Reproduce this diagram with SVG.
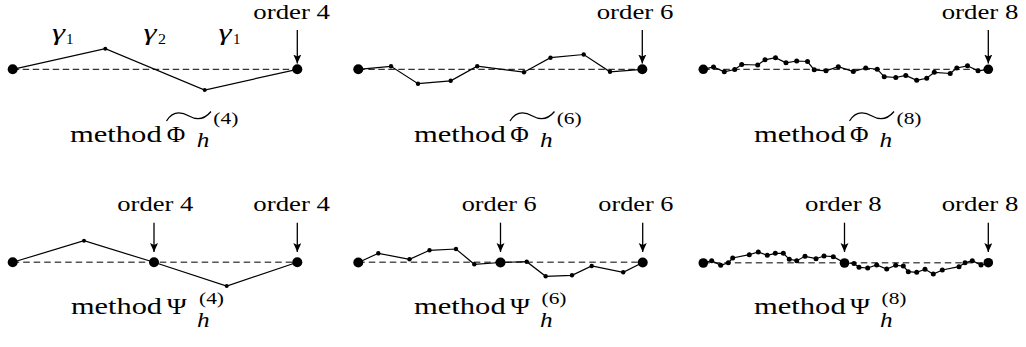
<svg xmlns="http://www.w3.org/2000/svg" width="1026" height="347" viewBox="0 0 1026 347">
<style>
text{font-family:"Liberation Serif","Times New Roman",serif;fill:#000}
.ord{font-size:20px}
.mth{font-size:24px}
.phi{font-size:23px}
.sub{font-size:20px;font-style:italic}
.sup{font-size:17px}
.gam{font-size:23px;font-style:italic}
.gsub{font-size:15px}
.dash{stroke:#333;stroke-width:1.2;stroke-dasharray:6.5 3.5;fill:none}
.dash2{stroke:#555;stroke-width:1.4;stroke-dasharray:6.5 4;fill:none}
.path{stroke:#000;stroke-width:1.2;fill:none}
.arrow{stroke:#000;stroke-width:1.3;fill:none;marker-end:url(#ah)}
.tilde{stroke:#000;stroke-width:1.3;fill:none}
circle{fill:#000}
</style>
<defs>
<marker id="ah" markerUnits="userSpaceOnUse" markerWidth="12" markerHeight="12" refX="9" refY="4" orient="auto">
<path d="M0,0 L9,4 L0,8 L2,4 z" fill="#000"/>
</marker>
</defs>

<!-- Top row -->
<g id="panel-phi4">
<line class="dash" x1="12.7" y1="69.3" x2="297.3" y2="69.3"/>
<polyline class="path" points="12.7,69.3 105.3,48.7 204.7,90 297.3,69.3"/>
<circle cx="12.7" cy="69.3" r="5"/><circle cx="297.3" cy="69.3" r="5"/>
<circle cx="105.3" cy="48.7" r="2"/><circle cx="204.7" cy="90" r="2"/>
<text class="gam" x="52" y="40" textLength="13" lengthAdjust="spacingAndGlyphs">γ</text><text class="gsub" x="66" y="43.5" textLength="7.5" lengthAdjust="spacingAndGlyphs">1</text>
<text class="gam" x="143.5" y="40" textLength="13" lengthAdjust="spacingAndGlyphs">γ</text><text class="gsub" x="158" y="43.5" textLength="8" lengthAdjust="spacingAndGlyphs">2</text>
<text class="gam" x="218.5" y="40" textLength="13" lengthAdjust="spacingAndGlyphs">γ</text><text class="gsub" x="233" y="43.5" textLength="7.5" lengthAdjust="spacingAndGlyphs">1</text>
<text class="ord" x="253.3" y="18.5" textLength="76.7" lengthAdjust="spacingAndGlyphs">order 4</text>
<text class="mth" x="70" y="141.7" textLength="91.7" lengthAdjust="spacingAndGlyphs">method</text>
<text class="phi" x="166.7" y="141.7" textLength="18.5" lengthAdjust="spacingAndGlyphs">Φ</text>
<text class="sub" x="196.7" y="146.5" textLength="12.6" lengthAdjust="spacingAndGlyphs">h</text>
<path class="tilde" d="M166.5,121 C172,112 180,111 189,116 C197,120.5 204,120 211,111.5"/>
<text class="sup" x="213.3" y="124" textLength="25" lengthAdjust="spacingAndGlyphs">(4)</text>
</g>

<g id="panel-phi6">
<line class="dash" x1="358.3" y1="69.3" x2="642.3" y2="69.3"/>
<polyline class="path" points="358.3,69.3 391,66.3 418,83.7 450.7,80.8 477.2,66.2 524,72.2 550.5,57.7 583.7,54.5 610,71.8 642.3,69.3"/>
<circle cx="358.3" cy="69.3" r="5"/><circle cx="642.3" cy="69.3" r="5"/>
<circle cx="391" cy="66.3" r="2.2"/><circle cx="418" cy="83.7" r="2.2"/><circle cx="450.7" cy="80.8" r="2.2"/><circle cx="477.2" cy="66.2" r="2.2"/><circle cx="524" cy="72.2" r="2.2"/><circle cx="550.5" cy="57.7" r="2.2"/><circle cx="583.7" cy="54.5" r="2.2"/><circle cx="610" cy="71.8" r="2.2"/>
<text class="ord" x="596.7" y="18.5" textLength="76.7" lengthAdjust="spacingAndGlyphs">order 6</text>
<text class="mth" x="414" y="141.7" textLength="91.7" lengthAdjust="spacingAndGlyphs">method</text>
<text class="phi" x="510.3" y="141.7" textLength="18.5" lengthAdjust="spacingAndGlyphs">Φ</text>
<text class="sub" x="540" y="146.5" textLength="12.6" lengthAdjust="spacingAndGlyphs">h</text>
<path class="tilde" d="M510,121 C515.5,112 523.5,111 532.5,116 C540.5,120.5 547.5,120 554.5,111.5"/>
<text class="sup" x="556.7" y="124" textLength="25" lengthAdjust="spacingAndGlyphs">(6)</text>
</g>

<g id="panel-phi8">
<line class="dash" x1="703.3" y1="69.3" x2="988.3" y2="69.3"/>
<polyline class="path" points="703.3,69.3 713.5,67 724.3,71.8 734.7,69.5 741.7,64.5 757.7,65 765,59.8 775.5,57.7 786,62.8 796.7,61 807.5,61.5 814.2,69.8 826,70.8 838.3,66.7 853.3,71.5 865.7,68 877.2,69.2 884.2,76.7 895.8,77.5 905.8,75.5 916.7,80.3 926.7,78.3 934.3,72.3 950.2,73.5 956.8,68 967.5,65.8 978,70.8 988.3,69.3"/>
<circle cx="703.3" cy="69.3" r="4.8"/><circle cx="988.3" cy="69.3" r="4.8"/>
<g>
<circle cx="713.5" cy="67" r="2.5"/><circle cx="724.3" cy="71.8" r="2.5"/><circle cx="734.7" cy="69.5" r="2.5"/><circle cx="741.7" cy="64.5" r="2.5"/><circle cx="757.7" cy="65" r="2.5"/><circle cx="765" cy="59.8" r="2.5"/><circle cx="775.5" cy="57.7" r="2.5"/><circle cx="786" cy="62.8" r="2.5"/><circle cx="796.7" cy="61" r="2.5"/><circle cx="807.5" cy="61.5" r="2.5"/><circle cx="814.2" cy="69.8" r="2.5"/><circle cx="826" cy="70.8" r="2.5"/><circle cx="838.3" cy="66.7" r="2.5"/><circle cx="853.3" cy="71.5" r="2.5"/><circle cx="865.7" cy="68" r="2.5"/><circle cx="877.2" cy="69.2" r="2.5"/><circle cx="884.2" cy="76.7" r="2.5"/><circle cx="895.8" cy="77.5" r="2.5"/><circle cx="905.8" cy="75.5" r="2.5"/><circle cx="916.7" cy="80.3" r="2.5"/><circle cx="926.7" cy="78.3" r="2.5"/><circle cx="934.3" cy="72.3" r="2.5"/><circle cx="950.2" cy="73.5" r="2.5"/><circle cx="956.8" cy="68" r="2.5"/><circle cx="967.5" cy="65.8" r="2.5"/><circle cx="978" cy="70.8" r="2.5"/>
</g>
<text class="ord" x="941.7" y="18.5" textLength="76.7" lengthAdjust="spacingAndGlyphs">order 8</text>
<text class="mth" x="754" y="141.7" textLength="91.7" lengthAdjust="spacingAndGlyphs">method</text>
<text class="phi" x="850" y="141.7" textLength="18.5" lengthAdjust="spacingAndGlyphs">Φ</text>
<text class="sub" x="879.5" y="146.5" textLength="12.6" lengthAdjust="spacingAndGlyphs">h</text>
<path class="tilde" d="M849.5,121 C855,112 863,111 872,116 C880,120.5 887,120 894,111.5"/>
<text class="sup" x="896.5" y="124" textLength="25" lengthAdjust="spacingAndGlyphs">(8)</text>
</g>

<!-- Bottom row -->
<g id="panel-psi4">
<line class="dash2" x1="12.7" y1="262.3" x2="297.3" y2="262.3"/>
<polyline class="path" points="12.7,262.3 84,240.7 154,262.3 226.7,286 297.3,262.3"/>
<circle cx="12.7" cy="262.3" r="5"/><circle cx="154" cy="262.3" r="5"/><circle cx="297.3" cy="262.3" r="5"/>
<circle cx="84" cy="240.7" r="2"/><circle cx="226.7" cy="286" r="2"/>
<text class="ord" x="117.3" y="211" textLength="76" lengthAdjust="spacingAndGlyphs">order 4</text>
<text class="ord" x="253.3" y="211" textLength="76.7" lengthAdjust="spacingAndGlyphs">order 4</text>
<text class="mth" x="71" y="314.3" textLength="91" lengthAdjust="spacingAndGlyphs">method</text>
<text class="phi" x="166.7" y="314.3" textLength="20" lengthAdjust="spacingAndGlyphs">Ψ</text>
<text class="sub" x="197" y="326.7" textLength="12.6" lengthAdjust="spacingAndGlyphs">h</text>
<text class="sup" x="199" y="304" textLength="25" lengthAdjust="spacingAndGlyphs">(4)</text>
</g>

<g id="panel-psi6">
<line class="dash2" x1="358.3" y1="262.3" x2="642.7" y2="262.3"/>
<polyline class="path" points="358.3,262.5 378.3,253.3 409.5,259.3 429.5,250.3 456,249 474.3,264.3 500.5,262.5 526.7,261.7 545.7,276.3 572,275.3 591.7,266 623.2,272.3 642.7,262.5"/>
<circle cx="358.3" cy="262.5" r="5"/><circle cx="500.5" cy="262.5" r="5"/><circle cx="642.7" cy="262.5" r="5"/>
<circle cx="378.3" cy="253.3" r="2.2"/><circle cx="409.5" cy="259.3" r="2.2"/><circle cx="429.5" cy="250.3" r="2.2"/><circle cx="456" cy="249" r="2.2"/><circle cx="474.3" cy="264.3" r="2.2"/><circle cx="526.7" cy="261.7" r="2.2"/><circle cx="545.7" cy="276.3" r="2.2"/><circle cx="572" cy="275.3" r="2.2"/><circle cx="591.7" cy="266" r="2.2"/><circle cx="623.2" cy="272.3" r="2.2"/>
<text class="ord" x="461.7" y="211" textLength="75" lengthAdjust="spacingAndGlyphs">order 6</text>
<text class="ord" x="598.3" y="211" textLength="75" lengthAdjust="spacingAndGlyphs">order 6</text>
<text class="mth" x="414" y="314.3" textLength="91.7" lengthAdjust="spacingAndGlyphs">method</text>
<text class="phi" x="510" y="314.3" textLength="20" lengthAdjust="spacingAndGlyphs">Ψ</text>
<text class="sub" x="540" y="326.7" textLength="12.6" lengthAdjust="spacingAndGlyphs">h</text>
<text class="sup" x="541.5" y="304" textLength="25" lengthAdjust="spacingAndGlyphs">(6)</text>
</g>

<g id="panel-psi8">
<line class="dash2" x1="703.3" y1="262.7" x2="988.3" y2="262.7"/>
<polyline class="path" points="703.3,263 711.7,260.7 720.7,265.3 728.3,262.7 732.7,258 749.3,254.7 758.3,252 767.3,255.3 775.3,253.3 783.3,253.3 789.3,259.3 796.7,260.7 805,256.3 816,258.7 824,256 833.3,256.7 844.5,263 854,263.5 859,267.3 867.7,268 876.7,265 886.7,269 895.7,265.3 903.3,266 908.3,271.7 916.7,272.3 925,269.3 933.3,274 942.3,270 959,266.7 965,262.7 972.3,260.7 981,265 988.3,262.7"/>
<circle cx="703.3" cy="263" r="4.8"/><circle cx="844.5" cy="263" r="4.8"/><circle cx="988.3" cy="262.7" r="4.8"/>
<g>
<circle cx="711.7" cy="260.7" r="2.5"/><circle cx="720.7" cy="265.3" r="2.5"/><circle cx="728.3" cy="262.7" r="2.5"/><circle cx="732.7" cy="258" r="2.5"/><circle cx="749.3" cy="254.7" r="2.5"/><circle cx="758.3" cy="252" r="2.5"/><circle cx="767.3" cy="255.3" r="2.5"/><circle cx="775.3" cy="253.3" r="2.5"/><circle cx="783.3" cy="253.3" r="2.5"/><circle cx="789.3" cy="259.3" r="2.5"/><circle cx="796.7" cy="260.7" r="2.5"/><circle cx="805" cy="256.3" r="2.5"/><circle cx="816" cy="258.7" r="2.5"/><circle cx="824" cy="256" r="2.5"/><circle cx="833.3" cy="256.7" r="2.5"/>
<circle cx="854" cy="263.5" r="2.5"/><circle cx="859" cy="267.3" r="2.5"/><circle cx="867.7" cy="268" r="2.5"/><circle cx="876.7" cy="265" r="2.5"/><circle cx="886.7" cy="269" r="2.5"/><circle cx="895.7" cy="265.3" r="2.5"/><circle cx="903.3" cy="266" r="2.5"/><circle cx="908.3" cy="271.7" r="2.5"/><circle cx="916.7" cy="272.3" r="2.5"/><circle cx="925" cy="269.3" r="2.5"/><circle cx="933.3" cy="274" r="2.5"/><circle cx="942.3" cy="270" r="2.5"/><circle cx="959" cy="266.7" r="2.5"/><circle cx="965" cy="262.7" r="2.5"/><circle cx="972.3" cy="260.7" r="2.5"/><circle cx="981" cy="265" r="2.5"/>
</g>
<text class="ord" x="805" y="211" textLength="76.7" lengthAdjust="spacingAndGlyphs">order 8</text>
<text class="ord" x="941.7" y="211" textLength="76.7" lengthAdjust="spacingAndGlyphs">order 8</text>
<text class="mth" x="754" y="314.3" textLength="91.7" lengthAdjust="spacingAndGlyphs">method</text>
<text class="phi" x="850" y="314.3" textLength="20" lengthAdjust="spacingAndGlyphs">Ψ</text>
<text class="sub" x="880" y="326.7" textLength="12.6" lengthAdjust="spacingAndGlyphs">h</text>
<text class="sup" x="881.5" y="304" textLength="25" lengthAdjust="spacingAndGlyphs">(8)</text>
</g>

<g id="connectors">
<line class="arrow" x1="297.3" y1="30" x2="297.3" y2="63.5"/>
<line class="arrow" x1="642.3" y1="30" x2="642.3" y2="63.5"/>
<line class="arrow" x1="988.3" y1="30" x2="988.3" y2="63.5"/>
<line class="arrow" x1="154" y1="222.7" x2="154" y2="252"/>
<line class="arrow" x1="297.3" y1="222.7" x2="297.3" y2="252"/>
<line class="arrow" x1="500.5" y1="222.7" x2="500.5" y2="252"/>
<line class="arrow" x1="642.7" y1="222.7" x2="642.7" y2="252"/>
<line class="arrow" x1="844.5" y1="222.7" x2="844.5" y2="252"/>
<line class="arrow" x1="988.3" y1="222.7" x2="988.3" y2="252"/>
</g>
</svg>
